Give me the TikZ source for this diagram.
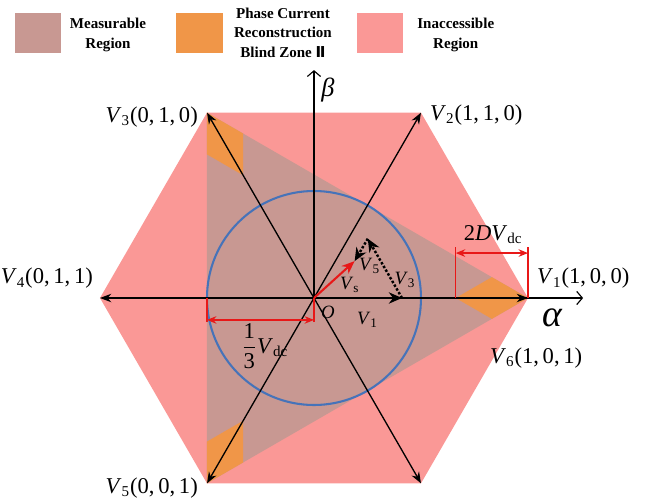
\documentclass[tikz,border=0pt]{standalone}
\usepackage{fontspec}
\setmainfont{Liberation Serif}
\newfontfamily\numeralfont{DejaVu Sans}
\usetikzlibrary{arrows.meta}
\definecolor{measurablecolor}{RGB}{200,152,146}
\definecolor{blindzonecolor}{RGB}{240,150,72}
\definecolor{inaccessiblecolor}{RGB}{250,152,150}
\definecolor{circlecolor}{RGB}{70,115,185}
\definecolor{dimcolor}{RGB}{232,24,24}
\newcommand{\vsub}[1]{\textit{V}\textsubscript{#1}}

\begin{document}
\begin{tikzpicture}
  \tikzset{
    vec/.style={
      draw=black,
      line width=0.7pt,
      -{Stealth[length=6pt,width=4.5pt]}
    },
    axisline/.style={
      draw=black,
      line width=0.6pt,
      -{Straight Barb[length=3pt,width=7pt]}
    },
    dotvec/.style={
      draw=black,
      line width=1.3pt,
      densely dotted,
      -{Stealth[length=7pt,width=6pt]}
    },
    dashvec/.style={
      draw=black,
      line width=1.1pt,
      densely dashed,
      -{Stealth[length=7pt,width=6pt]}
    },
    refvec/.style={
      draw=dimcolor,
      line width=1.1pt,
      -{Stealth[length=7pt,width=5.5pt]}
    },
    dimtick/.style={
      draw=dimcolor,
      line width=0.7pt
    },
    dimline/.style={
      draw=dimcolor,
      line width=0.7pt,
      {Stealth[length=5pt,width=4pt]}-{Stealth[length=5pt,width=4pt]}
    },
    vlabel/.style={
      font=\fontsize{12}{14}\selectfont,
      inner sep=1pt
    },
    inlabel/.style={
      font=\fontsize{10}{12}\selectfont,
      inner sep=1pt
    },
    keybox/.style={
      minimum width=0.86cm,
      minimum height=0.75cm,
      inner sep=0pt
    },
    keytext/.style={
      font=\bfseries\fontsize{8}{10.4}\selectfont,
      align=center
    }
  }
  \useasboundingbox (-5.869,-3.738) rectangle (6.187,5.570);

  % Hexagon corners
  \coordinate (o) at (0,0);
  \coordinate (v1) at (4,0);
  \coordinate (v2) at (2,3.464);
  \coordinate (v3) at (-2,3.464);
  \coordinate (v4) at (-4,0);
  \coordinate (v5) at (-2,-3.464);
  \coordinate (v6) at (2,-3.464);
  \coordinate (alphaend) at (5.03,0);
  \coordinate (betaend) at (0,4.26);

  % Regions
  \fill[inaccessiblecolor] (v1) -- (v2) -- (v3) -- (v4) -- (v5) -- (v6) -- cycle;
  \fill[measurablecolor] (v1) -- (v3) -- (v5) -- cycle;
  \fill[blindzonecolor] (v1) -- ++(150:0.78) -- ++(210:0.78) -- ++(330:0.78) -- cycle;
  \fill[blindzonecolor] (v3) -- ++(-90:0.78) -- ++(-30:0.78) -- ++(90:0.78) -- cycle;
  \fill[blindzonecolor] (v5) -- ++(90:0.78) -- ++(30:0.78) -- ++(-90:0.78) -- cycle;
  \draw[circlecolor, line width=1.1pt] (o) circle (2);

  % Axes and basic vectors
  \draw[axisline] (o) -- (alphaend);
  \draw[axisline] (o) -- (betaend);
  \draw[vec] (o) -- (v1);
  \draw[vec] (o) -- (v2);
  \draw[vec] (o) -- (v3);
  \draw[vec] (o) -- (v4);
  \draw[vec] (o) -- (v5);
  \draw[vec] (o) -- (v6);

  % Synthesis of the reference vector
  \coordinate (pone) at (1.645,0);
  \coordinate (pthree) at (1.005,1.109);
  \coordinate (vs) at (0.76,0.69);
  \draw[dashvec] (o) -- (pone);
  \draw[dotvec] (pone) -- (pthree);
  \draw[dotvec] (pthree) -- (vs);
  \draw[refvec] (o) -- (vs);

  % 2DVdc dimension
  \coordinate (zoneleft) at (2.65,0);
  \coordinate (zonelefttop) at (2.65,0.95);
  \coordinate (zonerighttop) at (4,0.95);
  \coordinate (zonea) at (2.65,0.84);
  \coordinate (zoneb) at (4,0.84);
  \draw[dimtick] (zoneleft) -- (zonelefttop);
  \draw[dimtick] (v1) -- (zonerighttop);
  \draw[dimline] (zonea) -- (zoneb);

  % 1/3 Vdc dimension
  \coordinate (radleft) at (-2,0);
  \coordinate (radleftbot) at (-2,-0.45);
  \coordinate (radrightbot) at (0,-0.45);
  \coordinate (rada) at (-2,-0.41);
  \coordinate (radb) at (0,-0.41);
  \draw[dimtick] (radleft) -- (radleftbot);
  \draw[dimtick] (o) -- (radrightbot);
  \draw[dimline] (rada) -- (radb);

  % Labels
  \node[vlabel, anchor=west] at (4.13,0.37) (lv1) {\vsub{1}(1,\,0,\,0)};
  \node[vlabel, anchor=west] at (2.13,3.42) (lv2) {\vsub{2}(1,\,1,\,0)};
  \node[vlabel, anchor=east] at (-2.13,3.38) (lv3) {\vsub{3}(0,\,1,\,0)};
  \node[vlabel, anchor=east] at (-4.09,0.37) (lv4) {\vsub{4}(0,\,1,\,1)};
  \node[vlabel, anchor=east] at (-2.13,-3.55) (lv5) {\vsub{5}(0,\,0,\,1)};
  \node[vlabel, anchor=west] at (3.25,-1.12) (lv6) {\vsub{6}(1,\,0,\,1)};
  \node[font=\fontsize{20}{22}\selectfont\itshape] at (4.45,-0.37) (lalpha) {α};
  \node[font=\fontsize{14}{16}\selectfont\itshape] at (0.26,3.89) (lbeta) {β};
  \node[inlabel] at (1.0,-0.41) (lpone) {\vsub{1}};
  \node[inlabel] at (1.70,0.34) (lpthree) {\vsub{3}};
  \node[inlabel] at (1.04,0.60) (lpfive) {\vsub{5}};
  \node[inlabel] at (0.67,0.24) (lvs) {\vsub{s}};
  \node[inlabel, font=\fontsize{10}{12}\selectfont\itshape] at (0.26,-0.26) (lo) {O};
  \node[vlabel] at (3.35,1.18) (ldim) {2\textit{DV}\textsubscript{dc}};
  \node[vlabel] at (-0.92,-0.90) (lrad) {${\displaystyle\frac{\mbox{1}}{\mbox{3}}}$\vsub{dc}};

  % Legend
  \node[keybox, fill=measurablecolor] at (-5.16,4.955) (keymeas) {};
  \node[keybox, fill=blindzonecolor] at (-2.14,4.955) (keyblind) {};
  \node[keybox, fill=inaccessiblecolor] at (1.24,4.955) (keyinacc) {};
  \node[keytext] at (-3.85,4.92) (txtmeas) {Measurable\\Region};
  \node[keytext] at (-0.58,4.96) (txtblind) {Phase Current\\Reconstruction\\Blind Zone {\numeralfont Ⅱ}};
  \node[keytext] at (2.65,4.92) (txtinacc) {Inaccessible\\Region};
\end{tikzpicture}
\end{document}
